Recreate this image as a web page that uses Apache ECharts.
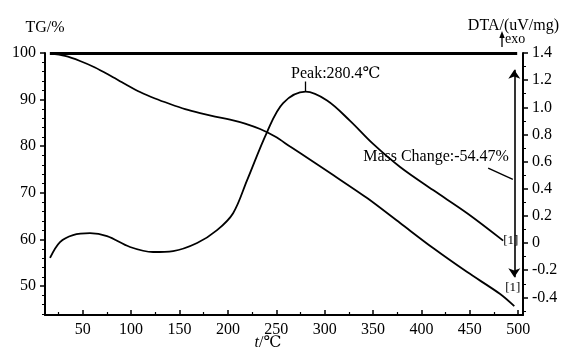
<!DOCTYPE html>
<html><head><meta charset="utf-8">
<script src="https://cdn.jsdelivr.net/npm/echarts@6/dist/echarts.min.js"></script>
<style>html,body{margin:0;padding:0;background:#fff}#c{width:561px;height:352px}</style>
</head><body><div id="c"></div><script>
// Temperature (°C) and TG (%)
const tempTG = [16.2, 31.7, 47.2, 62.7, 78.2, 93.7, 109.2, 124.7, 140.2, 155.8, 171.3, 186.8, 202.3, 217.8, 233.3, 248.8, 264.3, 274.6, 308.8, 343.9, 378.0, 412.1, 447.3, 481.4, 496];
const tgValues = [99.9, 99.36, 98.28, 96.89, 95.17, 93.35, 91.63, 90.24, 89.06, 87.98, 87.12, 86.37, 85.73, 84.87, 83.69, 82.08, 79.94, 78.54, 73.82, 68.88, 63.52, 58.15, 53.0, 48.3, 45.7];
// Temperature (°C) and DTA (uV/mg)
const tempDTA = [16.2, 26.5, 40, 57.5, 75.1, 98.9, 122.7, 143.4, 168.2, 188.8, 205.4, 219.9, 240.5, 257.1, 280.4, 302.5, 326.3, 350.1, 378, 412.1, 447.3, 484.5];
const dtaValues = [-0.11, 0.007, 0.059, 0.073, 0.051, -0.029, -0.066, -0.059, 0, 0.095, 0.22, 0.464, 0.818, 1.031, 1.115, 1.05, 0.90, 0.73, 0.56, 0.39, 0.22, 0.018];
// Tick labels
const xTickLabels = [50, 100, 150, 200, 250, 300, 350, 400, 450, 500];
const xMinorTicks = [25, 75, 125, 175, 225, 275, 325, 375, 425, 475];
const tgTickLabels = [50, 60, 70, 80, 90, 100];
const tgMinorTicks = [44, 46, 48, 52, 54, 56, 58, 62, 64, 66, 68, 72, 74, 76, 78, 82, 84, 86, 88, 92, 94, 96, 98];
const dtaTickLabels = [-0.4, -0.2, 0, 0.2, 0.4, 0.6, 0.8, 1.0, 1.2, 1.4];
const dtaMinorTicks = [-0.5, -0.3, -0.1, 0.1, 0.3, 0.5, 0.7, 0.9, 1.1, 1.3];
// Annotations
const peakTemp = 280.4;
const peakText = 'Peak:280.4℃';
const massText = 'Mass Change:-54.47%';
const tgStart = [16, 100];
const tgEndLine = [499, 100];
const massArrowTemp = 496;
const massArrowTop = 96.4;
const massArrowBottom = 51.9;

const F = '"Liberation Serif","DejaVu Serif",serif';
const K = '#000';
const chart = echarts.init(document.getElementById('c'), null, {renderer: 'canvas'});

const tgData = tempTG.map((t, i) => [t, tgValues[i]]);
const dtaData = tempDTA.map((t, i) => [t, dtaValues[i]]);

const lbl = {color: K, fontFamily: F, fontSize: 16};

chart.setOption({
  animation: false,
  backgroundColor: '#fff',
  grid: {left: 45, right: 38, top: 53, bottom: 37, containLabel: false, outerBoundsMode: 'none'},
  xAxis: [{
    type: 'value', min: 11, max: 505, position: 'bottom',
    axisLine: {show: true, onZero: false, lineStyle: {color: K, width: 2}},
    axisTick: {show: true, inside: true, length: 5, customValues: xTickLabels, lineStyle: {color: K, width: 1.5}},
    axisLabel: Object.assign({show: true, margin: 7, customValues: xTickLabels}, lbl),
    splitLine: {show: false}
  }, {
    type: 'value', min: 11, max: 505, position: 'bottom',
    axisLine: {show: false, onZero: false},
    axisTick: {show: true, inside: true, length: 3, customValues: xMinorTicks, lineStyle: {color: K, width: 1.2}},
    axisLabel: {show: false}, splitLine: {show: false}
  }],
  yAxis: [{
    type: 'value', min: 43.8, max: 100, position: 'left',
    axisLine: {show: true, onZero: false, lineStyle: {color: K, width: 2}},
    axisTick: {show: true, inside: false, length: 5, customValues: tgTickLabels, lineStyle: {color: K, width: 1.5}},
    axisLabel: Object.assign({show: true, margin: 9, customValues: tgTickLabels}, lbl),
    splitLine: {show: false}
  }, {
    type: 'value', min: -0.53, max: 1.4, position: 'right',
    axisLine: {show: true, onZero: false, lineStyle: {color: K, width: 2}},
    axisTick: {show: true, inside: false, length: 5, customValues: dtaTickLabels, lineStyle: {color: K, width: 1.5}},
    axisLabel: Object.assign({show: true, margin: 9, customValues: dtaTickLabels,
      formatter: v => (Math.abs(v) < 1e-9 ? '0' : Number(v).toFixed(1))}, lbl),
    splitLine: {show: false}
  }, {
    type: 'value', min: 43.8, max: 100, position: 'left',
    axisLine: {show: false, onZero: false},
    axisTick: {show: true, inside: false, length: 3, customValues: tgMinorTicks, lineStyle: {color: K, width: 1}},
    axisLabel: {show: false}, splitLine: {show: false}
  }, {
    type: 'value', min: -0.53, max: 1.4, position: 'right',
    axisLine: {show: false, onZero: false},
    axisTick: {show: true, inside: false, length: 3, customValues: dtaMinorTicks, lineStyle: {color: K, width: 1}},
    axisLabel: {show: false}, splitLine: {show: false}
  }],
  graphic: [
    {type: 'text', x: 45, y: 28, style: {text: 'TG/%', font: '16px ' + F, fill: K, textAlign: 'center', textVerticalAlign: 'middle'}},
    {type: 'text', x: 559, y: 26, style: {text: 'DTA/(uV/mg)', font: '16px ' + F, fill: K, textAlign: 'right', textVerticalAlign: 'middle'}},
    {type: 'text', x: 268, y: 343, style: {text: '{i|t}/℃', font: '16px ' + F, fill: K, textAlign: 'center', textVerticalAlign: 'middle',
      rich: {i: {fontStyle: 'italic', fontFamily: F, fontSize: 16, fill: K}}}},
    {type: 'text', x: 505, y: 39, style: {text: 'exo', font: '14px ' + F, fill: K, textAlign: 'left', textVerticalAlign: 'middle'}},
    {type: 'line', shape: {x1: 502, y1: 47, x2: 502, y2: 36}, style: {stroke: K, lineWidth: 1.3}},
    {type: 'polygon', shape: {points: [[502, 31], [499.3, 38], [504.7, 38]]}, style: {fill: K}}
  ],
  series: [{
    name: 'TG', type: 'line', xAxisIndex: 0, yAxisIndex: 0, data: tgData,
    smooth: 0.3, showSymbol: false, silent: true,
    lineStyle: {color: K, width: 1.8},
    markLine: {
      silent: true, animation: false, symbol: ['none', 'none'], symbolSize: 9,
      label: {show: false}, emphasis: {disabled: true},
      lineStyle: {color: K, type: 'solid', width: 1.4},
      data: [
        [{coord: tgStart, lineStyle: {width: 3, color: K, type: 'solid'}}, {coord: tgEndLine}],
        [{coord: [massArrowTemp, massArrowTop], symbol: 'arrow', lineStyle: {width: 1.6, color: K, type: 'solid'}},
         {coord: [massArrowTemp, massArrowBottom], symbol: 'arrow'}],
        [{coord: [469, 75.3]}, {coord: [494.5, 72.9]}]
      ]
    },
    markPoint: {
      silent: true, animation: false, symbol: 'circle', symbolSize: 0,
      data: [
        {coord: [339.8, 77.7], label: {show: true, position: 'right', distance: 0, formatter: () => massText, color: K, fontFamily: F, fontSize: 16}},
        {coord: [486.6, 49.6], label: {show: true, position: 'right', distance: 0, formatter: () => '[1]', color: K, fontFamily: F, fontSize: 13}}
      ]
    }
  }, {
    name: 'DTA', type: 'line', xAxisIndex: 0, yAxisIndex: 1, data: dtaData,
    smooth: 0.35, showSymbol: false, silent: true,
    lineStyle: {color: K, width: 1.8},
    markLine: {
      silent: true, animation: false, symbol: ['none', 'none'],
      label: {show: false}, emphasis: {disabled: true},
      lineStyle: {color: K, type: 'solid', width: 1.3},
      data: [[{coord: [peakTemp, 1.115]}, {coord: [peakTemp, 1.19]}]]
    },
    markPoint: {
      silent: true, animation: false, symbol: 'circle', symbolSize: 0,
      data: [
        {coord: [265.3, 1.245], label: {show: true, position: 'right', distance: 0, formatter: () => peakText, color: K, fontFamily: F, fontSize: 16}},
        {coord: [484.6, 0.015], label: {show: true, position: 'right', distance: 0, formatter: () => '[1]', color: K, fontFamily: F, fontSize: 13}}
      ]
    }
  }]
});
</script></body></html>
